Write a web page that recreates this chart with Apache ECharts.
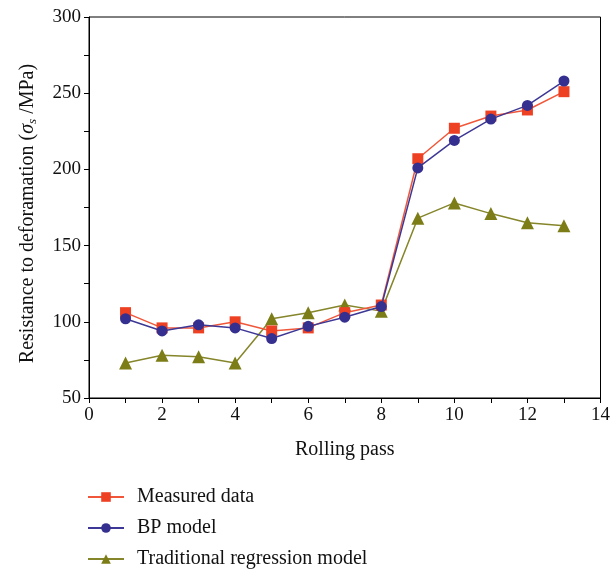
<!DOCTYPE html>
<html>
<head>
<meta charset="utf-8">
<script src="https://cdn.jsdelivr.net/npm/echarts@6/dist/echarts.min.js"></script>
<style>
  html, body { margin: 0; padding: 0; background: #fff; }
  #chart { width: 613px; height: 571px; }
</style>
</head>
<body>
<div id="chart"></div>
<script>
// rolling passes
const passes = [1, 2, 3, 4, 5, 6, 7, 8, 9, 10, 11, 12, 13];
// resistance to deformation values (MPa)
const measured = [106, 96, 96, 100, 94, 96, 106, 111, 207, 227, 235, 239, 251];
const bpModel = [102, 94, 98, 96, 89, 97, 103, 110, 201, 219, 233, 242, 258];
const regression = [73, 78, 77, 73, 102, 106, 111, 107, 168, 178, 171, 165, 163];

const serif = '"Liberation Serif", "DejaVu Serif", serif';

function pairs(ys) {
  return passes.map((x, i) => [x, ys[i]]);
}

let myChart = echarts.init(document.getElementById('chart'));
myChart.setOption({
  animation: false,
  grid: {
    left: 89,
    top: 17,
    right: 12,
    bottom: 173,
    show: true,
    borderColor: '#000',
    borderWidth: 1,
  },
  legend: {
    orient: 'vertical',
    left: 87,
    top: 487,
    height: 90,
    padding: 0,
    itemGap: 11,
    itemWidth: 36,
    itemHeight: 12,
    textStyle: { fontFamily: serif, fontSize: 20, lineHeight: 20, color: '#111', padding: [0, 0, 0, 8] },
    data: ['Measured data', 'BP model', 'Traditional regression model'],
  },
  xAxis: {
    type: 'value',
    min: 0,
    max: 14,
    interval: 2,
    name: 'Rolling pass',
    nameLocation: 'middle',
    nameGap: 42,
    nameTextStyle: { fontFamily: serif, fontSize: 20, color: '#111' },
    axisLine: { lineStyle: { color: '#000', width: 1 } },
    axisTick: { show: true, length: 5, lineStyle: { color: '#000' } },
    minorTick: { show: true, splitNumber: 2, length: 5, lineStyle: { color: '#000' } },
    splitLine: { show: false },
    axisLabel: { fontFamily: serif, fontSize: 19, color: '#111', margin: 8 },
  },
  yAxis: {
    type: 'value',
    min: 50,
    max: 300,
    interval: 50,
    name: '{a|Resistance to deforamation (}{b|σ}{c|s}{a| /MPa)}',
    nameLocation: 'middle',
    nameGap: 50,
    nameTextStyle: {
      fontFamily: serif,
      fontSize: 20,
      color: '#111',
      padding: [0, 12, 0, 0],
      rich: {
        a: { fontFamily: serif, fontSize: 20, color: '#111' },
        b: { fontFamily: serif, fontSize: 20, fontStyle: 'italic', color: '#111' },
        c: { fontFamily: serif, fontSize: 13, fontStyle: 'italic', color: '#111', padding: [9, 0, 0, 0] },
      },
    },
    axisLine: { show: true, lineStyle: { color: '#000', width: 1 } },
    axisTick: { show: true, length: 5, lineStyle: { color: '#000' } },
    minorTick: { show: true, splitNumber: 2, length: 5, lineStyle: { color: '#000' } },
    splitLine: { show: false },
    axisLabel: { fontFamily: serif, fontSize: 19, color: '#111', margin: 8 },
  },
  series: [
    {
      name: 'Measured data',
      type: 'line',
      data: pairs(measured),
      symbol: 'rect',
      symbolSize: 11,
      itemStyle: { color: '#ee4123' },
      lineStyle: { color: '#f0573a', width: 1.5 },
      z: 2,
    },
    {
      name: 'BP model',
      type: 'line',
      data: pairs(bpModel),
      symbol: 'circle',
      symbolSize: 11,
      itemStyle: { color: '#35308f' },
      lineStyle: { color: '#3d3896', width: 1.5 },
      z: 3,
    },
    {
      name: 'Traditional regression model',
      type: 'line',
      data: pairs(regression),
      symbol: 'triangle',
      symbolSize: 13,
      itemStyle: { color: '#7d7d17' },
      lineStyle: { color: '#85852a', width: 1.5 },
      z: 1,
    },
  ],
});

window.addEventListener('resize', () => {
  myChart.resize();
});
</script>
</body>
</html>
